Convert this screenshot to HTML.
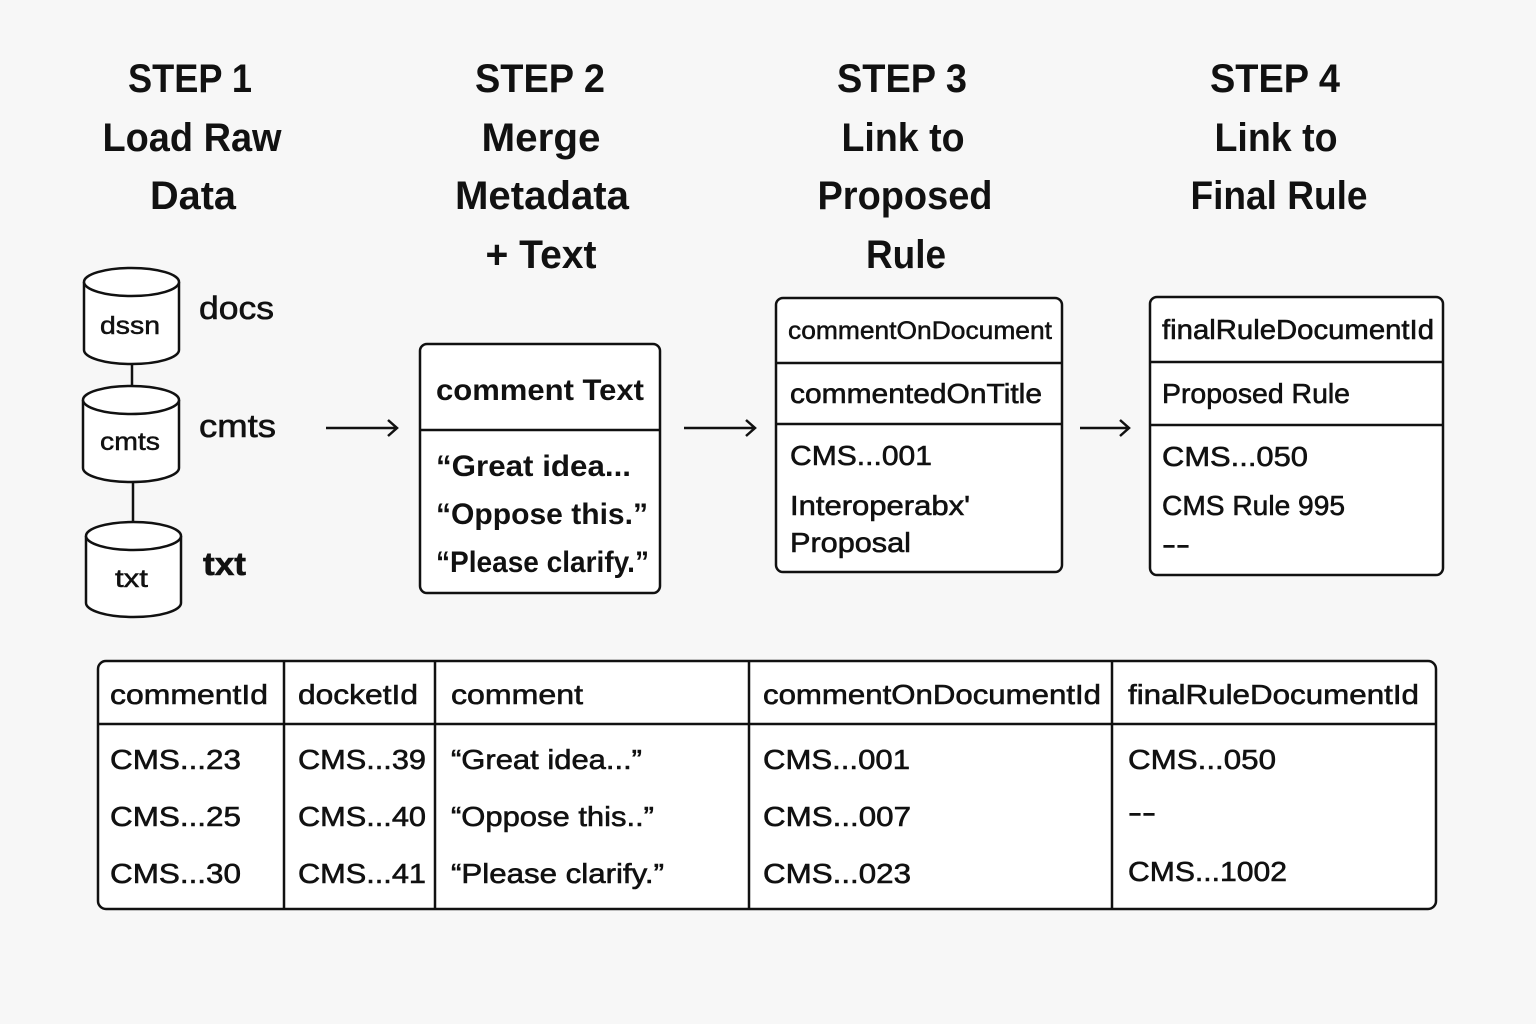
<!DOCTYPE html>
<html><head><meta charset="utf-8"><style>
html,body{margin:0;padding:0;background:#f7f7f7;width:1536px;height:1024px;overflow:hidden}
svg{display:block}
text{font-family:"Liberation Sans",sans-serif;fill:#111}
.h{font-size:40px;font-weight:bold;text-anchor:middle}
.t{font-size:28px;stroke:#111;stroke-width:0.6}
.s{font-size:25px;stroke:#111;stroke-width:0.5}
.b{font-size:30px;font-weight:bold}
</style></head><body>
<svg width="1536" height="1024" viewBox="0 0 1536 1024" xmlns="http://www.w3.org/2000/svg">
<rect width="1536" height="1024" fill="#f7f7f7"/>
<!-- headings -->
<text class="h" x="190" y="92" textLength="124" lengthAdjust="spacingAndGlyphs">STEP 1</text>
<text class="h" x="192" y="151" textLength="179" lengthAdjust="spacingAndGlyphs">Load Raw</text>
<text class="h" x="193" y="209" textLength="86" lengthAdjust="spacingAndGlyphs">Data</text>
<text class="h" x="540" y="92" textLength="130" lengthAdjust="spacingAndGlyphs">STEP 2</text>
<text class="h" x="541" y="151" textLength="119" lengthAdjust="spacingAndGlyphs">Merge</text>
<text class="h" x="542" y="209" textLength="174" lengthAdjust="spacingAndGlyphs">Metadata</text>
<text class="h" x="541" y="268" textLength="111" lengthAdjust="spacingAndGlyphs">+ Text</text>
<text class="h" x="902" y="92" textLength="130" lengthAdjust="spacingAndGlyphs">STEP 3</text>
<text class="h" x="903" y="151" textLength="123" lengthAdjust="spacingAndGlyphs">Link to</text>
<text class="h" x="905" y="209" textLength="175" lengthAdjust="spacingAndGlyphs">Proposed</text>
<text class="h" x="906" y="268" textLength="80" lengthAdjust="spacingAndGlyphs">Rule</text>
<text class="h" x="1275" y="92" textLength="130" lengthAdjust="spacingAndGlyphs">STEP 4</text>
<text class="h" x="1276" y="151" textLength="123" lengthAdjust="spacingAndGlyphs">Link to</text>
<text class="h" x="1279" y="209" textLength="177" lengthAdjust="spacingAndGlyphs">Final Rule</text>

<!-- cylinders -->
<g fill="#fff" stroke="#111" stroke-width="2.5">
<path d="M84 282 L84 350 A47.5 14 0 0 0 179 350 L179 282"/>
<ellipse cx="131.5" cy="282" rx="47.5" ry="14"/>
<path d="M83 400 L83 468 A48 14 0 0 0 179 468 L179 400"/>
<ellipse cx="131" cy="400" rx="48" ry="14"/>
<path d="M86 536 L86 603 A47.5 14 0 0 0 181 603 L181 536"/>
<ellipse cx="133.5" cy="536" rx="47.5" ry="14"/>
</g>
<line x1="132" y1="364" x2="132" y2="386" stroke="#111" stroke-width="2.5"/>
<line x1="133" y1="482" x2="133" y2="522" stroke="#111" stroke-width="2.5"/>
<text class="s" x="100" y="334" textLength="60" lengthAdjust="spacingAndGlyphs">dssn</text>
<text class="s" x="100" y="450" textLength="60" lengthAdjust="spacingAndGlyphs">cmts</text>
<text class="s" x="115" y="587" textLength="33" lengthAdjust="spacingAndGlyphs">txt</text>
<text class="t" x="199" y="319" textLength="75" lengthAdjust="spacingAndGlyphs" style="font-size:32px">docs</text>
<text class="t" x="199" y="437" textLength="77" lengthAdjust="spacingAndGlyphs" style="font-size:32px">cmts</text>
<text class="t" x="203" y="575" textLength="43" lengthAdjust="spacingAndGlyphs" style="font-size:32px;font-weight:bold">txt</text>

<!-- arrows -->
<g stroke="#111" stroke-width="2.5" fill="none">
<path d="M326 428 H397 M388 420 L397 428 L388 436"/>
<path d="M684 428 H755 M746 420 L755 428 L746 436"/>
<path d="M1080 428 H1129 M1120 420 L1129 428 L1120 436"/>
</g>

<!-- box 2 -->
<rect x="420" y="344" width="240" height="249" rx="7" fill="#fff" stroke="#111" stroke-width="2.5"/>
<line x1="420" y1="430" x2="660" y2="430" stroke="#111" stroke-width="2.5"/>
<text class="b" x="436" y="400" textLength="208" lengthAdjust="spacingAndGlyphs">comment Text</text>
<text class="b" x="436" y="476" textLength="195" lengthAdjust="spacingAndGlyphs">“Great idea...</text>
<text class="b" x="436" y="524" textLength="212" lengthAdjust="spacingAndGlyphs">“Oppose this.”</text>
<text class="b" x="436" y="572" textLength="213" lengthAdjust="spacingAndGlyphs">“Please clarify.”</text>

<!-- box 3 -->
<rect x="776" y="298" width="286" height="274" rx="7" fill="#fff" stroke="#111" stroke-width="2.5"/>
<line x1="776" y1="363" x2="1062" y2="363" stroke="#111" stroke-width="2.5"/>
<line x1="776" y1="424" x2="1062" y2="424" stroke="#111" stroke-width="2.5"/>
<text class="s" x="788" y="339" textLength="264" lengthAdjust="spacingAndGlyphs">commentOnDocument</text>
<text class="t" x="790" y="403" textLength="252" lengthAdjust="spacingAndGlyphs">commentedOnTitle</text>
<text class="t" x="790" y="465" textLength="142" lengthAdjust="spacingAndGlyphs">CMS...001</text>
<text class="t" x="790" y="515" textLength="180" lengthAdjust="spacingAndGlyphs">Interoperabx'</text>
<text class="t" x="790" y="552" textLength="121" lengthAdjust="spacingAndGlyphs">Proposal</text>

<!-- box 4 -->
<rect x="1150" y="297" width="293" height="278" rx="7" fill="#fff" stroke="#111" stroke-width="2.5"/>
<line x1="1150" y1="362" x2="1443" y2="362" stroke="#111" stroke-width="2.5"/>
<line x1="1150" y1="425" x2="1443" y2="425" stroke="#111" stroke-width="2.5"/>
<text class="t" x="1162" y="339" textLength="272" lengthAdjust="spacingAndGlyphs">finalRuleDocumentId</text>
<text class="t" x="1162" y="403" textLength="188" lengthAdjust="spacingAndGlyphs">Proposed Rule</text>
<text class="t" x="1162" y="466" textLength="146" lengthAdjust="spacingAndGlyphs">CMS...050</text>
<text class="t" x="1162" y="515" textLength="183" lengthAdjust="spacingAndGlyphs">CMS Rule 995</text>
<text class="t" x="1162" y="554" textLength="28" lengthAdjust="spacingAndGlyphs">--</text>

<!-- table -->
<rect x="98" y="661" width="1338" height="248" rx="8" fill="#fff" stroke="#111" stroke-width="2.5"/>
<g stroke="#111" stroke-width="2.5">
<line x1="98" y1="724" x2="1436" y2="724"/>
<line x1="284" y1="661" x2="284" y2="909"/>
<line x1="435" y1="661" x2="435" y2="909"/>
<line x1="749" y1="661" x2="749" y2="909"/>
<line x1="1112" y1="661" x2="1112" y2="909"/>
</g>
<text class="t" x="110" y="704" textLength="158" lengthAdjust="spacingAndGlyphs">commentId</text>
<text class="t" x="298" y="704" textLength="120" lengthAdjust="spacingAndGlyphs">docketId</text>
<text class="t" x="451" y="704" textLength="132" lengthAdjust="spacingAndGlyphs">comment</text>
<text class="t" x="763" y="704" textLength="338" lengthAdjust="spacingAndGlyphs">commentOnDocumentId</text>
<text class="t" x="1128" y="704" textLength="291" lengthAdjust="spacingAndGlyphs">finalRuleDocumentId</text>

<text class="t" x="110" y="769" textLength="131" lengthAdjust="spacingAndGlyphs">CMS...23</text>
<text class="t" x="110" y="826" textLength="131" lengthAdjust="spacingAndGlyphs">CMS...25</text>
<text class="t" x="110" y="883" textLength="131" lengthAdjust="spacingAndGlyphs">CMS...30</text>
<text class="t" x="298" y="769" textLength="128" lengthAdjust="spacingAndGlyphs">CMS...39</text>
<text class="t" x="298" y="826" textLength="128" lengthAdjust="spacingAndGlyphs">CMS...40</text>
<text class="t" x="298" y="883" textLength="128" lengthAdjust="spacingAndGlyphs">CMS...41</text>
<text class="t" x="451" y="769" textLength="191" lengthAdjust="spacingAndGlyphs">“Great idea...”</text>
<text class="t" x="451" y="826" textLength="203" lengthAdjust="spacingAndGlyphs">“Oppose this..”</text>
<text class="t" x="451" y="883" textLength="213" lengthAdjust="spacingAndGlyphs">“Please clarify.”</text>
<text class="t" x="763" y="769" textLength="147" lengthAdjust="spacingAndGlyphs">CMS...001</text>
<text class="t" x="763" y="826" textLength="148" lengthAdjust="spacingAndGlyphs">CMS...007</text>
<text class="t" x="763" y="883" textLength="148" lengthAdjust="spacingAndGlyphs">CMS...023</text>
<text class="t" x="1128" y="769" textLength="148" lengthAdjust="spacingAndGlyphs">CMS...050</text>
<text class="t" x="1128" y="822" textLength="28" lengthAdjust="spacingAndGlyphs">--</text>
<text class="t" x="1128" y="881" textLength="159" lengthAdjust="spacingAndGlyphs">CMS...1002</text>
</svg>
</body></html>
